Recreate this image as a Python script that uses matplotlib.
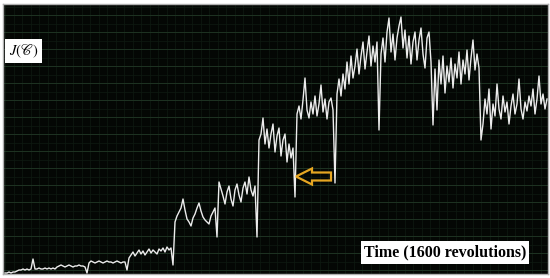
import numpy as np
import matplotlib
matplotlib.use("Agg")
import matplotlib.pyplot as plt
from matplotlib.patches import FancyArrow

seg_a = [1, 1, 2, 1, 2, 2,
         3, 4, 4, 5, 4, 5, 4,
         5, 15, 5,
         5, 6, 5, 5, 6, 5, 6, 5, 6, 5,
         7, 8, 9, 8, 7, 8, 9, 8, 7, 8, 8, 9, 8, 8, 7]
seg_b = [1, 11, 13, 12, 11, 12, 13, 12, 11, 12, 13, 12, 12, 11, 12, 13, 12, 11, 12, 12, 4]
seg_c = [16, 19, 22, 18, 21, 24, 20, 23, 19, 22, 25, 21, 24, 22, 20, 25, 23, 26, 22, 27, 24, 26, 9]
seg_d = [52, 58, 62, 66, 75, 64, 55, 52, 48, 56, 60, 66, 71, 63, 57, 54, 52, 50, 58, 62, 66, 37]
seg_e = [92, 85, 78, 70, 82, 88, 75, 68, 84, 90, 79, 72, 86, 92, 80, 97, 84, 78, 88, 37]
seg_f = [134, 140, 156, 130, 145, 126, 140, 150, 122, 138, 146, 118, 134, 140, 112, 130, 116, 126, 77]
seg_g = [160, 168, 155, 174, 196, 164, 156, 172, 160, 178, 158, 170, 189, 162, 175, 155, 172, 176, 164, 91]
seg_h = [180, 195, 178, 200, 185, 212, 190, 218, 196, 208, 225, 200, 218, 232, 205, 222, 238, 208,
         228, 212, 232, 144]
seg_i = [220, 236, 212, 242, 256, 222, 240, 214, 236, 248, 257, 226, 244, 216, 238, 210, 232, 242,
         214, 234, 246, 220, 206, 236, 242, 212, 149]
seg_j = [205, 164, 214, 190, 218, 181, 208, 192, 216, 186, 210, 196, 222, 190, 214, 200, 224, 194,
         216, 234, 204, 220, 206, 134]
seg_k = [150, 175, 160, 185, 145, 170, 158, 190, 165, 155, 178, 162, 172, 150, 168, 180, 160, 170,
         195, 165, 155, 172, 163, 178, 168, 185, 160, 175, 198, 170, 180, 165, 175]

y_label = r"$J(\mathscr{C})$"
x_label = "Time (1600 revolutions)"

values = np.array(seg_a + seg_b + seg_c + seg_d + seg_e + seg_f + seg_g + seg_h + seg_i + seg_j + seg_k,
                  dtype=float)
t = np.arange(len(values))

plt.rcParams["mathtext.fontset"] = "stix"

W, H = 550, 278
fig = plt.figure(figsize=(W / 100, H / 100), dpi=100)
fig.patch.set_facecolor("white")
ax = fig.add_axes([3 / W, (H - 274) / H, 545 / W, 270 / H])
ax.set_facecolor("#040704")
ax.set_xlim(-1, 271.5)
ax.set_ylim(0, 270)

# grid
for k in np.arange(-4.25, 272, 4.25):
    major = abs((k - 4) / 8.5 - round((k - 4) / 8.5)) < 1e-6
    ax.axvline(k, color="#1e3322" if major else "#0f1a11", lw=0.7 if major else 0.5, zorder=0)
for k in np.arange(-4.5, 271, 8.5):
    major = abs((k - 4) / 17 - round((k - 4) / 17)) < 1e-6
    ax.axhline(k, color="#1e3322" if major else "#0f1a11", lw=0.7 if major else 0.5, zorder=0)

ax.plot(t, values, color="#ececec", lw=1.0, zorder=3)

ax.set_xticks([])
ax.set_yticks([])
for s in ax.spines.values():
    s.set_color("#b0b0b0")
    s.set_linewidth(1.0)

# arrow (outlined, orange)
arr = FancyArrow(163, 97.5, -17.5, 0, width=8, head_width=16, head_length=8,
                 length_includes_head=True, fill=False, edgecolor="#e6a622", lw=1.6, zorder=4)
ax.add_patch(arr)

ax.text(20.5 / 545, 1 - 47 / 270, y_label, transform=ax.transAxes,
        ha="center", va="center", fontsize=10.5, color="black", zorder=6,
        bbox=dict(boxstyle="square,pad=0.25", facecolor="white", edgecolor="none"))
ax.text((445 - 3) / 545, 1 - (252.5 - 4) / 270, x_label, transform=ax.transAxes,
        ha="center", va="center", fontsize=11.5, color="black", fontweight="bold",
        family=["Liberation Serif", "DejaVu Serif"], zorder=6,
        bbox=dict(boxstyle="square,pad=0.2", facecolor="white", edgecolor="none"))

fig.savefig("out.png", dpi=100, facecolor="white")
